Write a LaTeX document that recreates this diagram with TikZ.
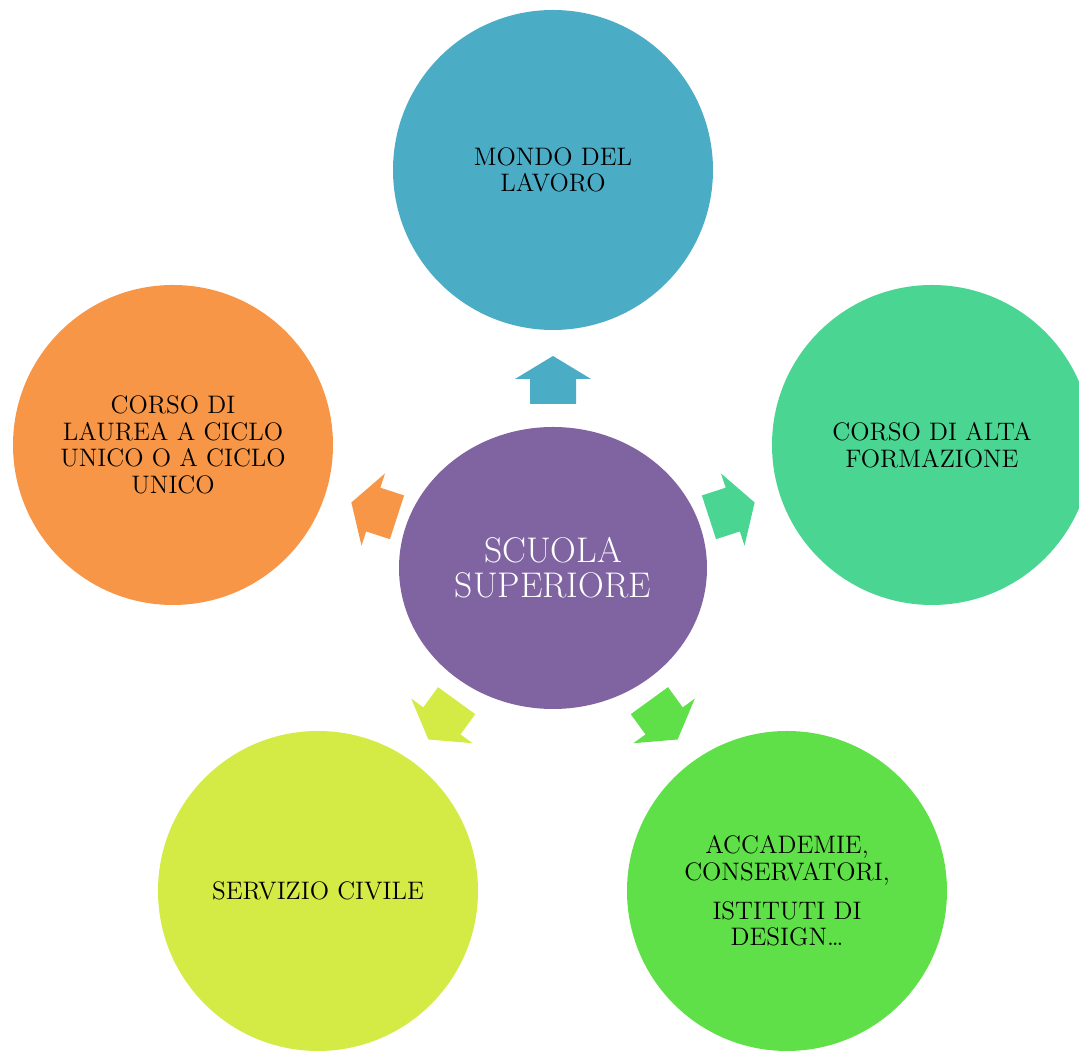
\documentclass[tikz,border=0pt]{standalone}
\usepackage{tikz}
\usetikzlibrary{shapes.geometric}

\definecolor{mondo}{RGB}{75,172,198}
\definecolor{scuola}{RGB}{128,100,162}
\definecolor{laurea}{RGB}{247,150,70}
\definecolor{alta}{RGB}{74,213,146}
\definecolor{civile}{RGB}{212,235,70}
\definecolor{accad}{RGB}{96,224,72}

\begin{document}
\begin{tikzpicture}[
  bubble/.style={circle,minimum size=6.4cm,inner sep=0pt,align=center,
    font=\fontsize{14.4}{15.2}\selectfont},
  centro/.style={ellipse,minimum width=6.16cm,minimum height=5.64cm,inner sep=0pt,
    align=center,text=white,font=\fontsize{20.3}{19.8}\selectfont}]
\useasboundingbox (0,0) rectangle (21.58,21.02);

\node[centro,fill=scuola] (sup) at (11.06,9.66) {SCUOLA\\SUPERIORE};

\node[bubble,fill=mondo] (lavoro) at (11.06,17.62) {MONDO DEL\\LAVORO};
\node[bubble,fill=alta] (alta) at (18.64,12.12) {CORSO DI ALTA\\FORMAZIONE};
\node[bubble,fill=accad] (accad) at (15.74,3.2) {ACCADEMIE,\\CONSERVATORI,\\[7pt]ISTITUTI DI\\DESIGN\dots};
\node[bubble,fill=civile] (civile) at (6.36,3.2) {SERVIZIO CIVILE};
\node[bubble,fill=laurea] (laurea) at (3.46,12.12) {CORSO DI\\LAUREA A CICLO\\UNICO O A CICLO\\UNICO};

% block arrows out of the centre
\foreach \a/\c in {90/mondo,18/alta,-54/accad,-126/civile,162/laurea}
  \fill[\c,shift={(sup.center)},rotate=\a]
    (3.28,-0.46) -- (3.78,-0.46) -- (3.78,-0.76) -- (4.24,0)
    -- (3.78,0.76) -- (3.78,0.46) -- (3.28,0.46) -- cycle;

\end{tikzpicture}
\end{document}
